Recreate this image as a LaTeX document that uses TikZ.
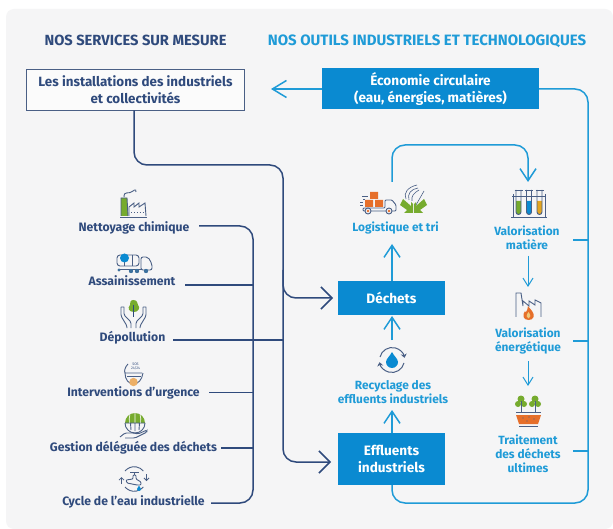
\documentclass[tikz,border=0pt]{standalone}
\usepackage{fontspec}
\setmainfont{Fira Sans}
\usetikzlibrary{arrows.meta}
\definecolor{navy}{HTML}{2F4A7C}
\definecolor{sky}{HTML}{1F9BD7}
\definecolor{boxblue}{HTML}{0A8AD1}
\definecolor{panel}{HTML}{F5F5F6}
\definecolor{leaf}{HTML}{76AB2E}
\definecolor{fire}{HTML}{E66F2A}
\definecolor{gold}{HTML}{E3A520}
\definecolor{inkline}{HTML}{4A5F85}
\tikzset{
  x=1pt,y=-1pt,
  heading/.style={font=\bfseries\fontsize{14.7}{16}\selectfont,inner sep=0pt,anchor=base},
  svc/.style={font=\bfseries\fontsize{12.2}{14}\selectfont,text=navy,inner sep=0pt,anchor=base},
  tool/.style={font=\bfseries\fontsize{11.9}{13.8}\selectfont,text=sky,align=center,inner sep=0pt},
  bluebox/.style={fill=boxblue,text=white,font=\bfseries\fontsize{13.6}{16.8}\selectfont,align=center,inner sep=0pt},
  navyline/.style={draw=navy,line width=1.5pt,rounded corners=13pt},
  skyline/.style={draw=sky,line width=1.5pt,rounded corners=13pt},
  navyarrow/.style={navyline,-{Straight Barb[length=11pt,width=22pt,line width=1.5pt]}},
  bigsky/.style={skyline,-{Straight Barb[length=12pt,width=16pt,line width=1.5pt]}},
  smallarrow/.style={draw=sky,line width=1pt,-{Straight Barb[length=8pt,width=10pt,line width=1pt]}},
  ic/.style={draw=inkline,line width=0.9pt},
}
\begin{document}
\begin{tikzpicture}
\useasboundingbox (0,0) rectangle (613,529);
\fill[white] (0,0) rectangle (613,529);
\fill[panel,rounded corners=8pt] (6,9) -- (613,9) -- (613,529) -- (6,529) -- cycle;

% headings
\node[heading,text=navy] (h1) at (135.5,45.5) {NOS SERVICES SUR MESURE};
\node[heading,text=sky,font=\bfseries\fontsize{15}{16}\selectfont] (h2) at (427,45.5) {NOS OUTILS INDUSTRIELS ET TECHNOLOGIQUES};

% boxes
\node[draw=inkline,line width=0.9pt,fill=white!60!panel,text=navy,align=center,inner sep=0pt,
      minimum width=218pt,minimum height=41pt,font=\bfseries\fontsize{13.4}{16.5}\selectfont] (inst) at (135.5,89.5)
      {Les installations des industriels\\et collectivités};
\node[bluebox,minimum width=217pt,minimum height=41pt] (eco) at (430.5,89)
      {Économie circulaire\\(eau, énergies, matières)};
\node[bluebox,minimum width=107pt,minimum height=34pt] (dech) at (391.5,298) {Déchets};
\node[bluebox,minimum width=107pt,minimum height=52pt] (effl) at (391.5,459) {Effluents\\industriels};

% service labels
\node[svc] (s1) at (134,231.7) {Nettoyage chimique};
\node[svc] (s2) at (132,286) {Assainissement};
\node[svc] (s3) at (132.5,341.5) {Dépollution};
\node[svc] (s4) at (133.5,396) {Interventions d’urgence};
\node[svc] (s5) at (133.5,451) {Gestion déléguée des déchets};
\node[svc] (s6) at (133.5,505.6) {Cycle de l’eau industrielle};

% tool labels
\node[tool] (t1) at (395.5,228) {Logistique et tri};
\node[tool] (t2) at (393,392) {Recyclage des\\effluents industriels};
\node[tool] (t3) at (527,238) {Valorisation\\matière};
\node[tool] (t4) at (528,341) {Valorisation\\énergétique};
\node[tool] (t5) at (528,454) {Traitement\\des déchets\\ultimes};

% free ends and junctions
\coordinate (trunk) at (283,340);
\coordinate (tipd) at (333,298);
\coordinate (tipe) at (331,462);
\coordinate (tipi) at (271,89);

% navy connectors
\draw[navyarrow] ([xshift=-1.5pt]inst.south) -- (134,165) -- (283,165) -- (283,462) -- (tipe);
\draw[navyarrow] (283,270) -- (283,298) -- (tipd);
\draw[navyline] (199,226) -- (253,226) -- (253,503) -- (211,503);
\draw[navyline,rounded corners=0pt] (185,285) -- (253,285);
\draw[navyline,rounded corners=0pt] (173,340) -- (trunk);
\draw[navyline,rounded corners=0pt] (209,392.5) -- (253,392.5);
\draw[navyline,rounded corners=0pt] (221,448) -- (253,448);

% sky connectors
\draw[bigsky,-{Straight Barb[length=14pt,width=17pt,line width=1.5pt]}] (eco.west) -- (tipi);
\draw[skyline] (eco.east) -- (588,89) -- (588,503) -- (392,503) -- (392,485);
\draw[skyline,rounded corners=0pt] (573,240) -- (588,240);
\draw[skyline,rounded corners=0pt] (573,341) -- (588,341);
\draw[skyline,rounded corners=0pt] (573,451) -- (588,451);
\draw[bigsky] (392,182) -- (392,145) -- (528,145) -- (528,182);
\draw[bigsky] (392,281) -- (392,244);
\draw[bigsky] (392,340) -- (392,316);
\draw[bigsky] (392,433) -- (392,410);
\draw[smallarrow] (528,256) -- (528,287);
\draw[smallarrow] (528,361) -- (528,386);

% ICONS ------------------------------------------------------------
% factory
\begin{scope}[shift={(120,187)}]
  \fill[leaf] (1,11) -- (7,11) -- (8,29) -- (1,29) -- cycle;
  \draw[ic] (1,29) -- (1,11) -- (7,11) -- (8,29);
  \draw[ic] (4,10) .. controls (4,3) and (9,8) .. (13,4) .. controls (15,2) and (17,3) .. (16,5);
  \draw[ic] (9,29) -- (9,20) -- (14,16) -- (14,20) -- (19,16) -- (19,20) -- (25,16) -- (26,29);
  \draw[ic] (0,30) -- (27,30);
  \draw[ic,dotted] (11,25) -- (24,25);
\end{scope}
% tanker
\begin{scope}[shift={(115,253)}]
  \draw[ic,rounded corners=3pt] (2,13) -- (2,2) -- (24,2) -- (24,13) -- cycle;
  \draw[ic] (9,2) -- (9,13) (17,2) -- (17,13);
  \draw[ic,rounded corners=2pt] (26,4) -- (33,4) -- (37,11) -- (37,17) -- (26,17) -- cycle;
  \fill[boxblue] (9.5,5) circle[radius=4.5];
  \draw[ic] (3,16) -- (26,16);
  \fill[inkline!70!sky] (4,17) circle[radius=1.6] (16,18) circle[radius=2.2] (22,18) circle[radius=2.2] (31,18) circle[radius=2.2];
\end{scope}
% hands and tree
\begin{scope}[shift={(120,300)}]
  \fill[leaf] (13.5,0) .. controls (18,0) and (17,4) .. (18,5) .. controls (21,8) and (18,12) .. (14,12) .. controls (9,12) and (7,8) .. (10,5) .. controls (10,3) and (10,0) .. (13.5,0) -- cycle;
  \draw[draw=navy,line width=0.8pt] (13.5,5) -- (13.5,17);
  \draw[ic,rounded corners=1.5pt] (4,7) -- (4,15) -- (11,22) -- (11,28) (1,7) -- (4,7) (1,7) -- (1,16) -- (7,26) -- (7,28);
  \draw[ic,rounded corners=1.5pt] (23,7) -- (23,15) -- (16,22) -- (16,28) (26,7) -- (23,7) (26,7) -- (26,16) -- (20,26) -- (20,28);
\end{scope}
% emergency
\begin{scope}[shift={(124,361)}]
  \node[inner sep=0pt,text=navy,font=\fontsize{3.6}{4}\selectfont,align=center] (sos) at (11.5,5) {SOS\\24/24};
  \draw[ic] (4,3) .. controls (1,6) and (0,10) .. (1,12) -- (18,12);
  \draw[ic] (1,12) .. controls (1,19) and (5,23) .. (9.5,23) .. controls (14,23) and (18,19) .. (19,12);
  \draw[ic] (3,15) -- (17,15);
  \fill[fire!45!gold!70!white] (9.5,21) circle[radius=4.2];
\end{scope}
% globe in hand
\begin{scope}[shift={(120,413)}]
  \fill[leaf] (5,10) arc[start angle=180,end angle=360,radius=10] -- cycle;
  \draw[ic] (5,10) arc[start angle=180,end angle=0,radius=10];
  \draw[white,line width=0.6pt] (15,0) -- (15,10) (10,1.5) .. controls (9,4) and (9,7) .. (9.5,10) (20,1.5) .. controls (21,4) and (21,7) .. (20.5,10);
  \draw[ic] (15,10) -- (15,18) (10.5,10) -- (11,17) (19.5,10) -- (19,17) (5,10) -- (25,10);
  \draw[ic,rounded corners=1.5pt] (0,24) -- (5,20) -- (14,20) -- (18,21) -- (27,17) -- (27,19) -- (15,25) -- (5,25);
\end{scope}
% tap
\begin{scope}[shift={(134,479)}]
  \draw[ic] (-9,-8) arc[start angle=-140,end angle=-40,radius=12];
  \draw[ic] (-9,8) arc[start angle=140,end angle=40,radius=12];
  \draw[ic,-{Straight Barb[length=2.5pt,width=5pt,line width=.8pt]}] (-12.5,5) -- (-12.5,-2);
  \draw[ic,-{Straight Barb[length=2.5pt,width=5pt,line width=.8pt]}] (12.5,-5) -- (12.5,2);
  \draw[ic,rounded corners=1pt] (-8,1) -- (-1,0) -- (-1,-4) -- (2,-4) -- (2,0) -- (7,3) -- (7,6) -- (3,6) -- (-7,4) -- cycle;
  \draw[ic] (-4,-7) -- (5,-7) (0.5,-7) -- (0.5,-4);
  \fill[boxblue] (5,6.5) -- (7,10) arc[start angle=0,end angle=180,radius=2] -- cycle;
\end{scope}
% truck
\begin{scope}[shift={(360,191)}]
  \fill[fire] (10,1) rectangle (18,8) (5,9) rectangle (13,16) (15,9) rectangle (23,16);
  \draw[ic] (0,11) -- (3,11) (2,5) -- (8,5) (3,8) -- (5,8) (0,14) -- (3,14);
  \draw[ic,rounded corners=1pt] (5,17) -- (25,17) -- (25,9) -- (32,9) -- (36,14) -- (36,20) -- (32,20) (26,20) -- (11,20) (5,20) -- (3,20) -- (3,17) -- (5,17);
  \draw[ic,fill=panel] (8,20) circle[radius=3] (29,20) circle[radius=3];
  \fill[fire] (8,20) circle[radius=1.3] (29,20) circle[radius=1.3];
\end{scope}
% sorting
\begin{scope}[shift={(400,185)}]
  \draw[ic,line width=0.6pt] (6,14) .. controls (3,8) and (8,2) .. (17,0) (9,15) .. controls (7,9) and (11,4) .. (18,3);
  \draw[ic,line width=0.6pt] (12,16) .. controls (11,11) and (14,8) .. (19,5) (16,20) -- (24,6);
  \fill[leaf] (0,20) -- (3,14) -- (11,21) -- (11,17) -- (13,19) -- (13,28) -- (4,28) -- (7,25) -- cycle;
  \fill[leaf] (27,20) -- (24,14) -- (16,21) -- (16,17) -- (14,19) -- (14,28) -- (23,28) -- (20,25) -- cycle;
\end{scope}
% test tubes
\begin{scope}[shift={(511,189)}]
  \fill[leaf] (5,12) -- (10,12) -- (10,23) arc[start angle=0,end angle=180,radius=2.5] -- cycle;
  \fill[boxblue] (15.5,12) -- (20.5,12) -- (20.5,23) arc[start angle=0,end angle=180,radius=2.5] -- cycle;
  \fill[gold] (26,12) -- (31,12) -- (31,23) arc[start angle=0,end angle=180,radius=2.5] -- cycle;
  \draw[ic] (5,1) -- (5,23) arc[start angle=180,end angle=0,radius=2.5] -- (10,1);
  \draw[ic] (15.5,1) -- (15.5,23) arc[start angle=180,end angle=0,radius=2.5] -- (20.5,1);
  \draw[ic] (26,1) -- (26,23) arc[start angle=180,end angle=0,radius=2.5] -- (31,1);
  \draw[ic] (3.5,1) -- (11.5,1) (14,1) -- (22,1) (24.5,1) -- (32.5,1);
  \draw[ic] (1,7) -- (35,7) (2,5) -- (2,28) (34,5) -- (34,28) (0,28.5) -- (36,28.5);
\end{scope}
% factory with fire
\begin{scope}[shift={(515,292)}]
  \draw[ic] (1,25) -- (1,1) -- (6,1) -- (8,14) -- (8,9) -- (14,14) -- (14,9) -- (20,13) -- (20,8) -- (26,11) -- (26,25);
  \fill[fire] (13.5,28) .. controls (8,28) and (7,23) .. (10,19) .. controls (10,21) and (12,21) .. (13,14) .. controls (15,17) and (20,21) .. (18.5,25) .. controls (18,27) and (16,28) .. (13.5,28) -- cycle;
  \fill[gold!60!white] (13.5,26.5) .. controls (11,26) and (11,23) .. (13.5,20) .. controls (16,23) and (16,26) .. (13.5,26.5) -- cycle;
\end{scope}
% plants
\begin{scope}[shift={(515,396)}]
  \fill[leaf] (6,3) circle[radius=3.5] (3,8) circle[radius=3] (9,8) circle[radius=3];
  \fill[leaf] (20,3) circle[radius=3.5] (17,8) circle[radius=3] (23,8) circle[radius=3];
  \draw[ic] (6,5) -- (6,16) (20,5) -- (20,16);
  \draw[ic] (1,16) -- (26,16);
  \fill[fire] (1,19) -- (26,19) -- (23,28) -- (4,28) -- cycle;
  \fill[inkline] (8,22) circle[radius=.7] (14,21) circle[radius=.7] (19,23) circle[radius=.7] (12,25) circle[radius=.7];
  \draw[ic] (4,30.5) -- (23,30.5);
\end{scope}
% recycled water
\begin{scope}[shift={(392,360)}]
  \draw[ic,line width=1pt,-{Stealth[length=4pt,width=6pt]}] (-12,-3) arc[start angle=-166,end angle=-10,radius=12.5];
  \draw[ic,line width=1pt,-{Stealth[length=4pt,width=6pt]}] (12,3) arc[start angle=14,end angle=170,radius=12.5];
  \fill[boxblue] (0,-8) .. controls (2,-4) and (6,-1) .. (6,2) arc[start angle=0,end angle=180,radius=6] .. controls (-6,-1) and (-2,-4) .. (0,-8) -- cycle;
\end{scope}
\end{tikzpicture}
\end{document}
